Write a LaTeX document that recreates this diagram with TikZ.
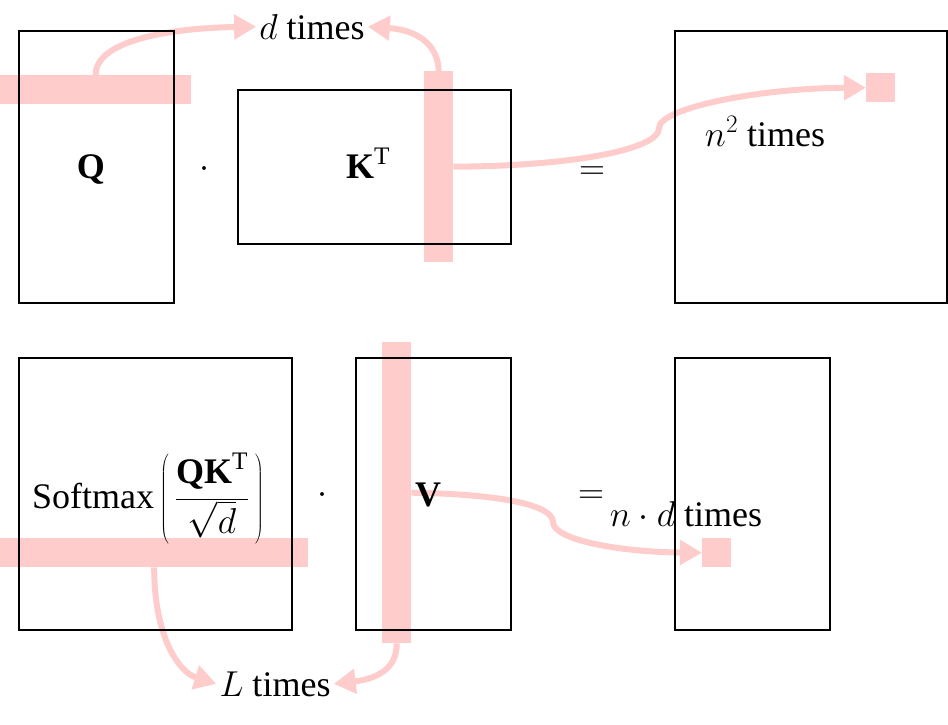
\RequirePackage{fix-cm}
\documentclass[tikz,border=0pt]{standalone}
\usepackage{fontspec}
\setmainfont{Liberation Serif}
\usetikzlibrary{arrows.meta}
\definecolor{hl}{RGB}{255,204,204}
\begin{document}
\begin{tikzpicture}[x=1pt,y=-1pt,
  bar/.style={fill=hl, draw=none, inner sep=0pt, anchor=north west},
  mat/.style={draw=black, line width=1.6pt, inner sep=0pt, anchor=north west},
  lbl/.style={font=\fontsize{36}{42}\selectfont, inner sep=3pt, anchor=base},
  flow/.style={draw=hl, line width=6pt, -{Triangle[length=22pt,width=24pt]}}]
\useasboundingbox (0,0) rectangle (948,724);

% highlight bars
\node[bar, minimum width=191pt, minimum height=29pt] (qbar) at (0,75) {};
\node[bar, minimum width=29pt, minimum height=191pt] (kbar) at (424,71) {};
\node[bar, minimum width=29pt, minimum height=29pt] (sqa) at (866,73) {};
\node[bar, minimum width=308pt, minimum height=29pt] (sbar) at (0,538) {};
\node[bar, minimum width=29pt, minimum height=301pt] (vbar) at (382,342) {};
\node[bar, minimum width=29pt, minimum height=29pt] (sqb) at (702,538) {};

% labels
\node[lbl] (dtimes) at (312,39) {$d$ times};
\node[lbl] (ntimes) at (765,146) {$n^2$ times};
\node[lbl] (ndtimes) at (686,526) {$n\cdot d$ times};
\node[lbl] (ltimes) at (275,696) {$L$ times};

% kink points
\coordinate (ka) at (659,128);
\coordinate (kb) at (553,522);

% arrows
\draw[flow] (qbar.north) .. controls (95,40) and (172,28) .. (dtimes.west);
\draw[flow] (kbar.north) .. controls (438,45) and (418,30) .. (dtimes.east);
\draw[flow] (kbar.east) .. controls (580,166) and (660,148) .. (ka) .. controls (659,108) and (760,88) .. (sqa.west);
\draw[flow] (vbar.east) .. controls (500,494) and (553,505) .. (kb) .. controls (553,540) and (620,552) .. (sqb.west);
\draw[flow] (sbar.south) .. controls (154,635) and (178,672) .. (ltimes.west);
\draw[flow] (vbar.south) .. controls (397,670) and (375,679) .. (ltimes.east);

% matrices
\node[mat, minimum width=155pt, minimum height=272pt] (Q) at (18,30) {};
\node[mat, minimum width=273pt, minimum height=154pt] (KT) at (237,89) {};
\node[mat, minimum width=272pt, minimum height=272pt] (R1) at (674,30) {};
\node[mat, minimum width=273pt, minimum height=272pt] (S) at (18,357) {};
\node[mat, minimum width=155pt, minimum height=272pt] (V) at (355,357) {};
\node[mat, minimum width=155pt, minimum height=272pt] (R2) at (674,357) {};

% matrix labels and operators
\node[lbl] (qlab) at (91,178) {$\mathbf{Q}$};
\node[lbl] (klab) at (368,178) {$\mathbf{K}^{\mathrm{T}}$};
\node[lbl] (dot1) at (204,177) {$\cdot$};
\node[lbl] (eq1) at (592,179) {$=$};
\node[lbl] (slab) at (148,508) {Softmax$\,\left(\,\displaystyle\frac{\mathbf{QK}^{\mathrm{T}}}{\sqrt{d}}\,\right)$};
\node[lbl] (dot2) at (322,503) {$\cdot$};
\node[lbl] (vlab) at (428,506) {$\mathbf{V}$};
\node[lbl] (eq2) at (591,503) {$=$};
\end{tikzpicture}
\end{document}
